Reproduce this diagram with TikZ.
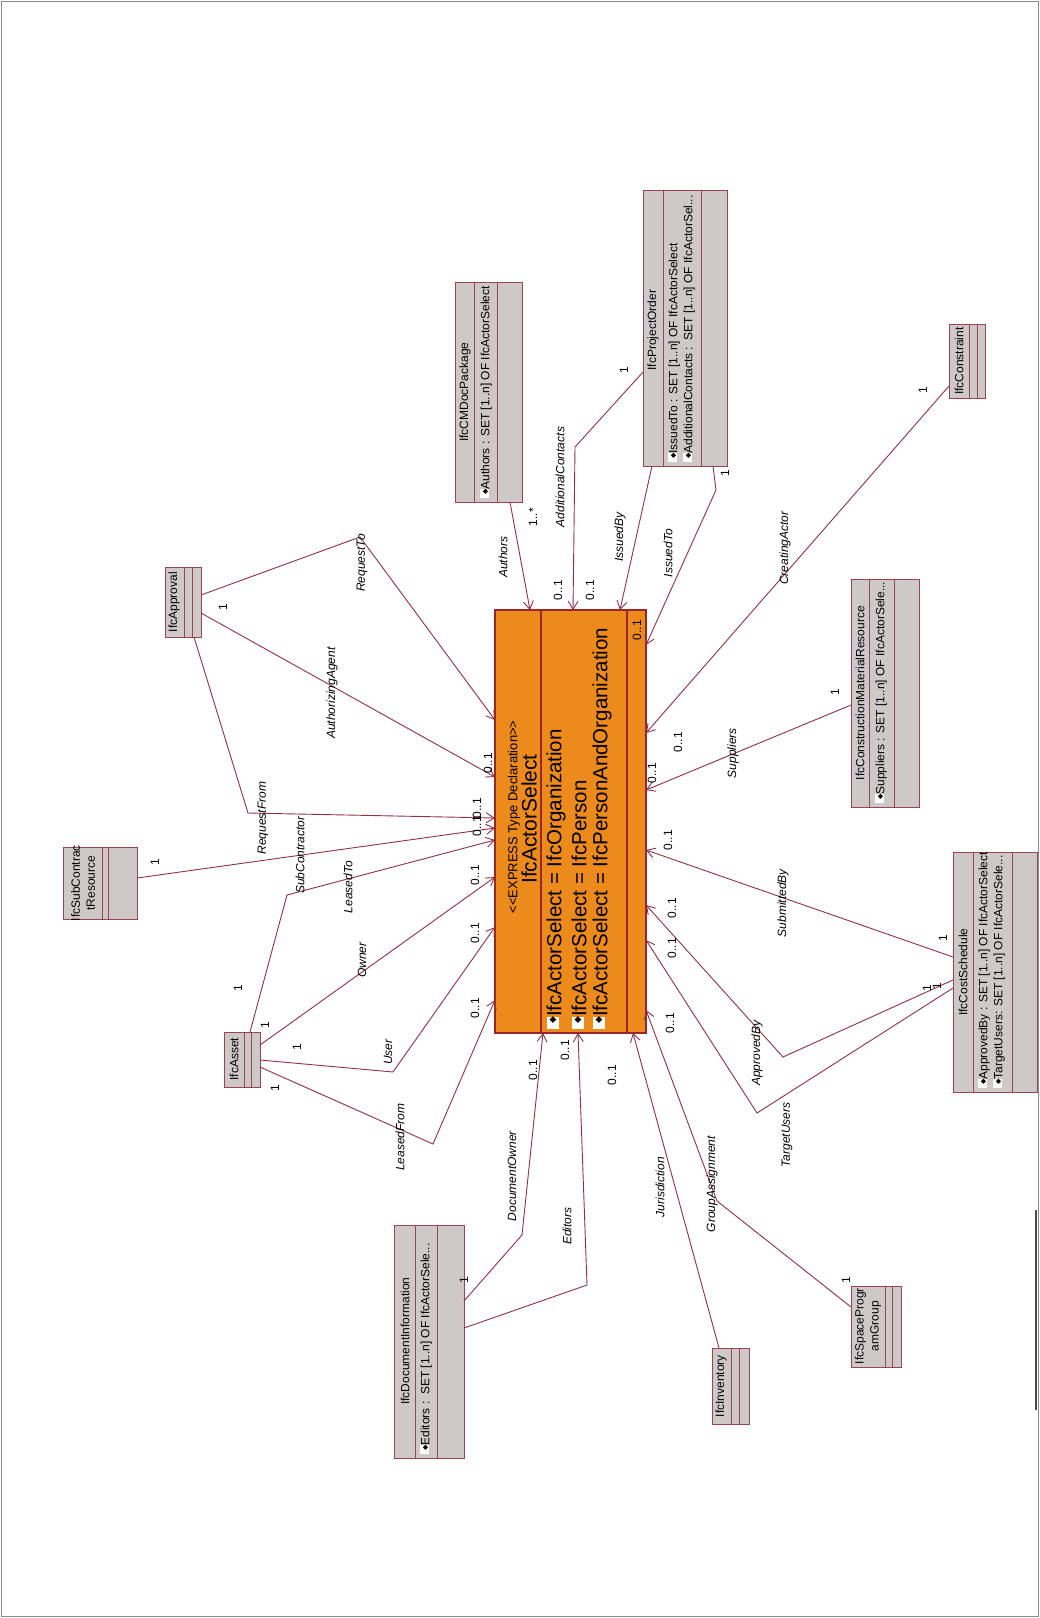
\documentclass[tikz,border=0pt]{standalone}
\usepackage{fontspec}
\setmainfont{Liberation Sans}
\newfontfamily\dvs{DejaVu Sans}
\usetikzlibrary{arrows.meta,fit}
\definecolor{orng}{RGB}{236,138,28}
\definecolor{dred}{RGB}{150,40,45}
\definecolor{lnk}{RGB}{140,50,70}
\definecolor{gfill}{RGB}{207,200,201}
\definecolor{gbord}{RGB}{150,70,80}
\definecolor{frm}{RGB}{140,140,140}
\newcommand\smico{{\setlength{\fboxsep}{0pt}\colorbox{white}{\rule{0pt}{9pt}\hspace*{9pt}}\hspace{-6pt}\raisebox{2pt}{\dvs\fontsize{7}{7}\selectfont ◆}}}
\newcommand\bigico{{\setlength{\fboxsep}{0pt}\raisebox{2pt}{\colorbox{white}{\rule{0pt}{12pt}\hspace*{12pt}}}\hspace{-7pt}\raisebox{6pt}{\dvs\fontsize{9}{9}\selectfont ◆}}}
\begin{document}
\begin{tikzpicture}[x=1pt,y=-1pt,
  cls/.style={draw=gbord, fill=gfill, line width=1pt, inner sep=0pt, outer sep=0pt},
  act/.style={draw=dred, fill=orng, line width=1.2pt, inner sep=0pt, outer sep=0pt},
  csep/.style={draw=gbord, line width=1pt},
  asep/.style={draw=dred, line width=1.2pt},
  nm/.style={rotate=90, inner sep=0pt, font=\fontsize{12}{15}\selectfont},
  attr/.style={rotate=90, anchor=west, inner sep=0pt, font=\fontsize{12}{15}\selectfont},
  role/.style={rotate=90, inner sep=0pt, font=\fontsize{12}{15}\selectfont\itshape},
  mult/.style={rotate=90, inner sep=0pt, font=\fontsize{12}{15}\selectfont},
  bigattr/.style={rotate=90, anchor=west, inner sep=0pt, font=\fontsize{20.5}{23}\selectfont},
  arr/.style={draw=lnk, line width=0.9pt, -{Straight Barb[length=8pt,width=10pt]}}]
\useasboundingbox (0,0) rectangle (1040,1618);
\draw[draw=frm, line width=1.5pt] (1.5,1.5) rectangle (1038.5,1616.5);
\draw[draw=black!70, line width=1.5pt] (1036,1210) -- (1036,1410);

% ---------- central box
\node[act, fit={(495,610) (646,1033)}] (actor) {};
\draw[asep] (actor.north -| 541,0) -- (actor.south -| 541,0);
\draw[asep] (actor.north -| 627,0) -- (actor.south -| 627,0);
\node[rotate=90, inner sep=0pt, font=\fontsize{13}{15}\selectfont] (actorSt) at (514,817) {<{}<EXPRESS Type Declaration>{}>};
\node[rotate=90, inner sep=0pt, font=\fontsize{21}{24}\selectfont] (actorN) at (529,819) {IfcActorSelect};
\node[bigattr] (actorA1) at (556,1029) {\bigico IfcActorSelect = IfcOrganization};
\node[bigattr] (actorA2) at (579,1029) {\bigico IfcActorSelect = IfcPerson};
\node[bigattr] (actorA3) at (602,1029) {\bigico IfcActorSelect = IfcPersonAndOrganization};

% ---------- classes
\node[cls, fit={(455,282) (522,502)}] (cmdoc) {};
\draw[csep] (cmdoc.north -| 474,0) -- (cmdoc.south -| 474,0);
\draw[csep] (cmdoc.north -| 497,0) -- (cmdoc.south -| 497,0);
\node[nm] (cmdocN) at (465,392) {IfcCMDocPackage};
\node[attr] (cmdocA) at (486,498) {\smico Authors : SET [1..n] OF IfcActorSelect};

\node[cls, fit={(643,190) (727,466)}] (porder) {};
\draw[csep] (porder.north -| 663,0) -- (porder.south -| 663,0);
\draw[csep] (porder.north -| 701,0) -- (porder.south -| 701,0);
\node[nm] (porderN) at (653,330) {IfcProjectOrder};
\node[attr] (porderA1) at (674,462) {\smico IssuedTo : SET [1..n] OF IfcActorSelect};
\node[attr] (porderA2) at (689,462) {\smico AdditionalContacts :\ \ SET [1..n] OF IfcActorSel...};

\node[cls, fit={(949,324) (985,398)}] (constraint) {};
\draw[csep] (constraint.north -| 969,0) -- (constraint.south -| 969,0);
\draw[csep] (constraint.north -| 977,0) -- (constraint.south -| 977,0);
\node[nm] (constraintN) at (959,361) {IfcConstraint};

\node[cls, fit={(851,579) (919,807)}] (cmr) {};
\draw[csep] (cmr.north -| 869,0) -- (cmr.south -| 869,0);
\draw[csep] (cmr.north -| 894,0) -- (cmr.south -| 894,0);
\node[nm] (cmrN) at (860,693) {IfcConstructionMaterialResource};
\node[attr] (cmrA) at (881,803) {\smico Suppliers : SET [1..n] OF IfcActorSele...};

\node[cls, fit={(953,852) (1037,1092)}] (cost) {};
\draw[csep] (cost.north -| 973,0) -- (cost.south -| 973,0);
\draw[csep] (cost.north -| 1012,0) -- (cost.south -| 1012,0);
\node[nm] (costN) at (963,972) {IfcCostSchedule};
\node[attr] (costA1) at (984,1088) {\smico ApprovedBy : SET [1..n] OF IfcActorSelect};
\node[attr] (costA2) at (999,1088) {\smico TargetUsers: SET [1..n] OF IfcActorSele...};

\node[cls, fit={(394,1225) (464,1458)}] (docinfo) {};
\draw[csep] (docinfo.north -| 415,0) -- (docinfo.south -| 415,0);
\draw[csep] (docinfo.north -| 437,0) -- (docinfo.south -| 437,0);
\node[nm] (docinfoN) at (405,1341) {IfcDocumentInformation};
\node[attr] (docinfoA) at (426,1454) {\smico Editors :\ \ SET [1..n] OF IfcActorSele...};

\node[cls, fit={(712,1348) (749,1424)}] (inventory) {};
\draw[csep] (inventory.north -| 731,0) -- (inventory.south -| 731,0);
\draw[csep] (inventory.north -| 739,0) -- (inventory.south -| 739,0);
\node[nm] (inventoryN) at (721,1386) {IfcInventory};

\node[cls, fit={(851,1286) (901,1367)}] (spg) {};
\draw[csep] (spg.north -| 885,0) -- (spg.south -| 885,0);
\draw[csep] (spg.north -| 892,0) -- (spg.south -| 892,0);
\node[nm, align=center] (spgN) at (868,1326) {IfcSpaceProgr\\amGroup};

\node[cls, fit={(224,1032) (260,1087)}] (asset) {};
\draw[csep] (asset.north -| 244,0) -- (asset.south -| 244,0);
\draw[csep] (asset.north -| 251,0) -- (asset.south -| 251,0);
\node[nm] (assetN) at (234,1059) {IfcAsset};

\node[cls, fit={(165,567) (201,637)}] (approval) {};
\draw[csep] (approval.north -| 184,0) -- (approval.south -| 184,0);
\draw[csep] (approval.north -| 192,0) -- (approval.south -| 192,0);
\node[nm] (approvalN) at (174,602) {IfcApproval};

\node[cls, fit={(63,847) (137,919)}] (subcon) {};
\draw[csep] (subcon.north -| 102,0) -- (subcon.south -| 102,0);
\draw[csep] (subcon.north -| 108,0) -- (subcon.south -| 108,0);
\node[nm, align=center] (subconN) at (83,883) {IfcSubContrac\\tResource};

% ---------- connectors
\draw[arr] (cmdoc.south -| 510,0) -- (actor.north -| 530,0);
\draw[arr] (porder.west |- 0,372) -- (575,447) -- (actor.north -| 573,0);
\draw[arr] (porder.south -| 652,0) -- (actor.north -| 620,0);
\draw[arr] (porder.south -| 713,0) -- (716,490) -- (actor.east |- 0,645);
\draw[arr] (constraint.west |- 0,386) -- (actor.east |- 0,733);
\draw[arr] (cmr.west |- 0,705) -- (actor.east |- 0,790);
\draw[arr] (cost.west |- 0,957) -- (actor.east |- 0,850);
\draw[arr] (cost.west |- 0,980) -- (783,1057) -- (actor.east |- 0,905);
\draw[arr] (cost.west |- 0,988) -- (757,1113) -- (actor.east |- 0,940);
\draw[arr] (spg.west |- 0,1307) -- (717,1201) -- (actor.east |- 0,1010);
\draw[arr] (inventory.north -| 719,0) -- (actor.south -| 633,0);
\draw[arr] (docinfo.east |- 0,1328) -- (587,1285) -- (actor.south -| 578,0);
\draw[arr] (docinfo.east |- 0,1301) -- (522,1235) -- (actor.south -| 543,0);
\draw[arr] (asset.east |- 0,1067) -- (433,1144) -- (actor.west |- 0,1000);
\draw[arr] (asset.east |- 0,1060) -- (393,1072) -- (actor.west |- 0,927);
\draw[arr] (asset.east |- 0,1045) -- (actor.west |- 0,877);
\draw[arr] (asset.north -| 250,0) -- (287,895) -- (actor.west |- 0,840);
\draw[arr] (subcon.east |- 0,878) -- (actor.west |- 0,828);
\draw[arr] (approval.south -| 194,0) -- (248,813) -- (actor.west |- 0,818);
\draw[arr] (approval.east |- 0,613) -- (actor.west |- 0,777);
\draw[arr] (approval.east |- 0,595) -- (360,537) -- (actor.west |- 0,720);

% ---------- role labels
\node[role] (rAuthors) at (503,557) {Authors};
\node[role] (rAddC) at (560,477) {AdditionalContacts};
\node[role] (rIssBy) at (620,537) {IssuedBy};
\node[role] (rIssTo) at (668,553) {IssuedTo};
\node[role] (rCreat) at (785,548) {CreatingActor};
\node[role] (rSupp) at (733,753) {Suppliers};
\node[role] (rSubm) at (783,903) {SubmittedBy};
\node[role] (rAppr) at (757,1053) {ApprovedBy};
\node[role] (rTarg) at (787,1135) {TargetUsers};
\node[role] (rGroup) at (712,1184) {GroupAssignment};
\node[role] (rJuris) at (660,1187) {Jurisdiction};
\node[role] (rEdit) at (567,1226) {Editors};
\node[role] (rDocO) at (512,1176) {DocumentOwner};
\node[role] (rLFrom) at (400,1137) {LeasedFrom};
\node[role] (rUser) at (388,1052) {User};
\node[role] (rOwner) at (362,960) {Owner};
\node[role] (rLTo) at (348,887) {LeasedTo};
\node[role] (rSubC) at (300,855) {SubContractor};
\node[role] (rReqF) at (263,818) {RequestFrom};
\node[role] (rAuth) at (332,693) {AuthorizingAgent};
\node[role] (rReqT) at (362,563) {RequestTo};

% ---------- multiplicities
\node[mult] (m1) at (533,517) {1..*};
\node[mult] (m2) at (558,590) {0..1};
\node[mult] (m3) at (590,590) {0..1};
\node[mult] (m4) at (624,370) {1};
\node[mult] (m5) at (725,473) {1};
\node[mult] (m6) at (637,630) {0..1};
\node[mult] (m7) at (923,390) {1};
\node[mult] (m8) at (678,742) {0..1};
\node[mult] (m9) at (652,773) {0..1};
\node[mult] (m10) at (835,692) {1};
\node[mult] (m11) at (668,840) {0..1};
\node[mult] (m12) at (943,938) {1};
\node[mult] (m13) at (672,908) {0..1};
\node[mult] (m14) at (672,948) {0..1};
\node[mult] (m15) at (927,988) {1};
\node[mult] (m16) at (937,986) {1};
\node[mult] (m17) at (670,1023) {0..1};
\node[mult] (m18) at (846,1280) {1};
\node[mult] (m19) at (612,1075) {0..1};
\node[mult] (m20) at (565,1050) {0..1};
\node[mult] (m21) at (533,1070) {0..1};
\node[mult] (m22) at (464,1280) {1};
\node[mult] (m23) at (488,763) {0..1};
\node[mult] (m24) at (477,808) {0..1};
\node[mult] (m25) at (477,826) {0..1};
\node[mult] (m26) at (475,875) {0..1};
\node[mult] (m27) at (475,933) {0..1};
\node[mult] (m28) at (475,1008) {0..1};
\node[mult] (m29) at (223,607) {1};
\node[mult] (m30) at (155,862) {1};
\node[mult] (m31) at (238,988) {1};
\node[mult] (m32) at (265,1025) {1};
\node[mult] (m33) at (297,1047) {1};
\node[mult] (m34) at (275,1088) {1};
\end{tikzpicture}
\end{document}
